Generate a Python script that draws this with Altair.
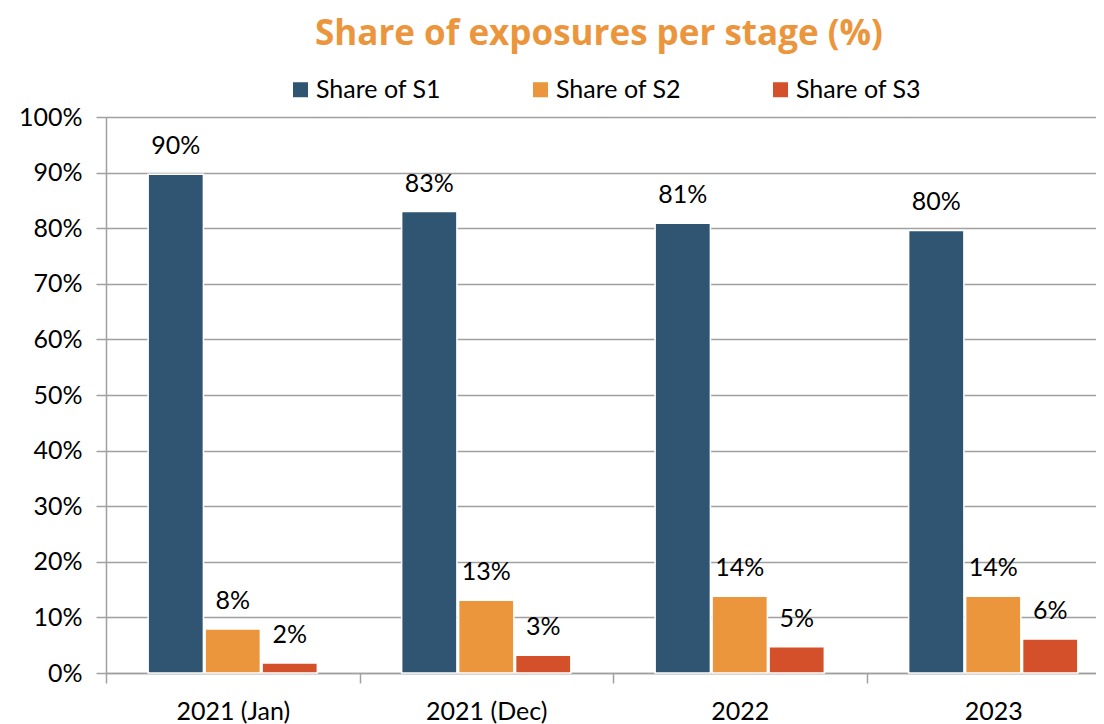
import altair as alt
import pandas as pd

periods = ["2021 (Jan)", "2021 (Dec)", "2022", "2023"]
series = ["Share of S1", "Share of S2", "Share of S3"]
s1 = [89.7, 83.0, 80.9, 79.6]
s2 = [7.9, 13.1, 13.8, 13.8]
s3 = [1.8, 3.2, 4.7, 6.1]
colors = ["#2F5573", "#EB963C", "#D4502B"]
y_ticks = [0, 10, 20, 30, 40, 50, 60, 70, 80, 90, 100]

rows = []
for name, vals in zip(series, [s1, s2, s3]):
    for p, v in zip(periods, vals):
        rows.append({"period": p, "series": name, "value": v,
                     "label": f"{round(v)}%"})
df = pd.DataFrame(rows)

FONT = "Lato"
GRID = "#A0A0A0"
BAND = 253.5
W = 990
H = 556

x_enc = alt.X(
    "period:N", sort=periods, title=None,
    scale=alt.Scale(range=[0, BAND * 4], paddingInner=0, paddingOuter=0),
    axis=alt.Axis(
        labelAngle=0, labelFont=FONT, labelFontSize=25, labelColor="black",
        labelPadding=16, tickBand="extent", tickSize=10, tickColor=GRID,
        tickWidth=1.5, domainColor=GRID, domainWidth=1.5, grid=False,
    ),
)
xo_enc = alt.XOffset("series:N", sort=series,
                     scale=alt.Scale(paddingInner=0.03, paddingOuter=0.74))
y_enc = alt.Y(
    "value:Q", title=None,
    scale=alt.Scale(domain=[0, 100], nice=False),
    axis=alt.Axis(
        values=y_ticks, labelExpr="datum.value + '%'", labelFont=FONT,
        labelFontSize=25, labelColor="black", labelPadding=14,
        tickSize=10, tickColor=GRID, tickWidth=1.5, domainColor=GRID,
        domainWidth=1.5, grid=True, gridColor=GRID, gridWidth=1.5,
    ),
)

bars = alt.Chart(df).mark_bar(stroke="white", strokeWidth=1.5).encode(
    x=x_enc, xOffset=xo_enc, y=y_enc,
    color=alt.Color(
        "series:N", sort=series,
        scale=alt.Scale(domain=series, range=colors),
        legend=alt.Legend(
            orient="none", legendX=182, legendY=-40, direction="horizontal",
            title=None, symbolType="square", symbolSize=225,
            symbolStrokeWidth=0, labelFontSize=25, labelFont=FONT,
            labelColor="black", labelOffset=3, columnPadding=86,
        ),
    ),
)

labels = alt.Chart(df).mark_text(
    dy=-20, baseline="alphabetic", align="center", fontSize=25, font=FONT,
    color="black",
).encode(x=x_enc, xOffset=xo_enc, y=y_enc, text="label:N")

chart = (
    alt.layer(bars, labels)
    .properties(
        width=W, height=H,
        title=alt.TitleParams(
            "Share of exposures per stage (%)", font="Open Sans", fontSize=35,
            fontWeight="bold", color="#EB963C", anchor="middle", offset=2,
            dy=5, dx=-2, baseline="alphabetic",
        ),
        autosize=alt.AutoSizeParams(type="none"),
        padding={"left": 98, "top": 109, "right": 0, "bottom": 51},
    )
    .configure_view(stroke=None)
)

chart.save("out.html", embed_options={"renderer": "svg", "actions": False})
